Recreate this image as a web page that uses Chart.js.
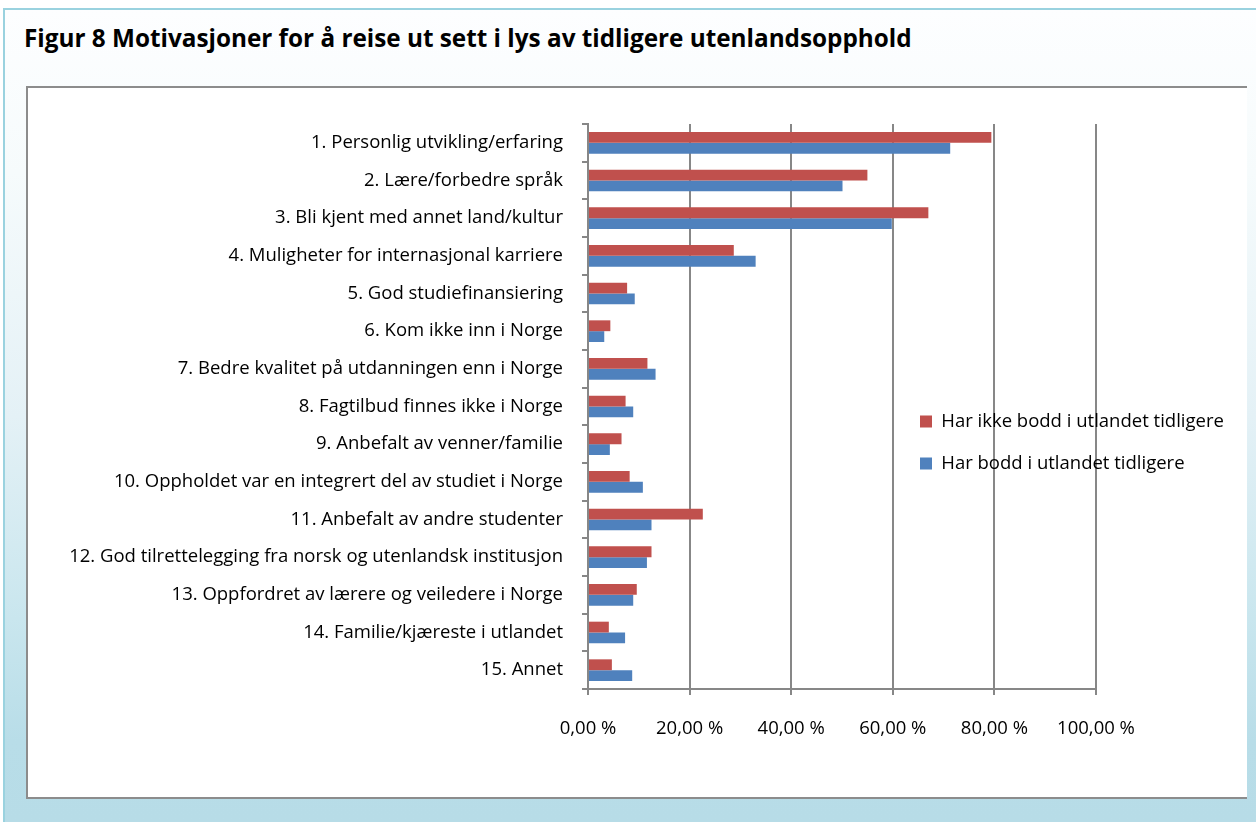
<!DOCTYPE html>
<html>
<head>
<meta charset="utf-8">
<script src="https://cdn.jsdelivr.net/npm/chart.js@4"></script>
<style>
  html, body { margin: 0; padding: 0; background: #fff; }
  body { width: 1256px; height: 822px; position: relative; overflow: hidden; font-family: "Open Sans", sans-serif; }
  #frame {
    position: absolute; left: 3px; top: 8px; right: 0; bottom: 0;
    border-top: 2px solid #9ad2df; border-left: 2px solid #9ad2df;
    background: linear-gradient(to bottom, #fdfeff 0%, #f6fbfc 20%, #e4f1f6 50%, #c9e6ee 75%, #b8dde8 90%, #b7dce7 100%);
  }
  #title {
    position: absolute; left: 24px; top: 21px; margin: 0; line-height: 30px;
    font: bold 24.3px "Open Sans", sans-serif; color: #000; white-space: nowrap;
  }
  #box {
    position: absolute; left: 26px; top: 86px; width: 1219px; height: 709px;
    background: #fff; border-top: 2px solid #8c8c8c; border-left: 2px solid #8c8c8c; border-bottom: 2px solid #8c8c8c;
  }
  #chart { position: absolute; left: 0; top: 0; }
</style>
</head>
<body>
<div id="frame"></div>
<h1 id="title">Figur 8 Motivasjoner for å reise ut sett i lys av tidligere utenlandsopphold</h1>
<div id="box"><canvas id="chart" width="1217" height="707"></canvas></div>
<script>
const motives = [
  '1. Personlig utvikling/erfaring',
  '2. Lære/forbedre språk',
  '3. Bli kjent med annet land/kultur',
  '4. Muligheter for internasjonal karriere',
  '5. God studiefinansiering',
  '6. Kom ikke inn i Norge',
  '7. Bedre kvalitet på utdanningen enn i Norge',
  '8. Fagtilbud finnes ikke i Norge',
  '9. Anbefalt av venner/familie',
  '10. Oppholdet var en integrert del av studiet i Norge',
  '11. Anbefalt av andre studenter',
  '12. God tilrettelegging fra norsk og utenlandsk institusjon',
  '13. Oppfordret av lærere og veiledere i Norge',
  '14. Familie/kjæreste i utlandet',
  '15. Annet'
];
const not_lived_abroad = [79.4, 55.0, 67.0, 28.7, 7.7, 4.4, 11.7, 7.4, 6.6, 8.2, 22.6, 12.5, 9.6, 4.1, 4.7];
const lived_abroad = [71.3, 50.1, 59.8, 33.0, 9.2, 3.2, 13.3, 8.9, 4.3, 10.8, 12.5, 11.6, 8.9, 7.3, 8.7];
const x_ticks = [0, 20, 40, 60, 80, 100];

const gray = '#878787';
const labelFont = { family: '"Open Sans", sans-serif', size: 18.5 };

// move the legend into the plot, over the gridlines, like the original
const legendPlacer = {
  id: 'legendPlacer',
  afterLayout(chart) {
    const lg = chart.legend;
    const w = lg.width, h = lg.height;
    lg.left = 868.5; lg.right = lg.left + w;
    lg.top = 300.75; lg.bottom = lg.top + h;
  }
};

const motives_data = {
  labels: motives,
  datasets: [{
    label: 'Har ikke bodd i utlandet tidligere',
    data: not_lived_abroad,
    backgroundColor: '#c0504d'
  }, {
    label: 'Har bodd i utlandet tidligere',
    data: lived_abroad,
    backgroundColor: '#4f81bd'
  }]
};

const motives_config = {
  type: 'bar',
  data: motives_data,
  plugins: [legendPlacer],
  options: {
    indexAxis: 'y',
    responsive: false,
    animation: false,
    categoryPercentage: 0.575,
    barPercentage: 1,
    layout: { padding: { left: 0, top: 36, right: 149, bottom: 46 } },
    plugins: {
      tooltip: { enabled: false },
      legend: {
        position: 'chartArea',
        align: 'start',
        labels: { boxWidth: 12, boxHeight: 12, padding: 23.5, color: '#000', font: labelFont }
      }
    },
    scales: {
      x: {
        min: 0,
        max: 100,
        afterBuildTicks: (s) => { s.ticks = x_ticks.map(v => ({ value: v })); },
        afterFit: (s) => { s.height = 60; },
        grid: { color: gray, lineWidth: 2, tickLength: 6 },
        border: { color: gray, width: 2 },
        ticks: {
          color: '#000',
          font: labelFont,
          padding: 23,
          maxRotation: 0,
          callback: (v) => v.toFixed(2).replace('.', ',') + ' %'
        }
      },
      y: {
        afterFit: (s) => { s.width = 560; },
        grid: { drawOnChartArea: false, color: gray, lineWidth: 2, tickLength: 6 },
        border: { color: gray, width: 2 },
        ticks: { color: '#000', font: labelFont, padding: 19, autoSkip: false }
      }
    }
  }
};

const motives_chart = new Chart(document.getElementById('chart'), motives_config);
</script>
</body>
</html>
